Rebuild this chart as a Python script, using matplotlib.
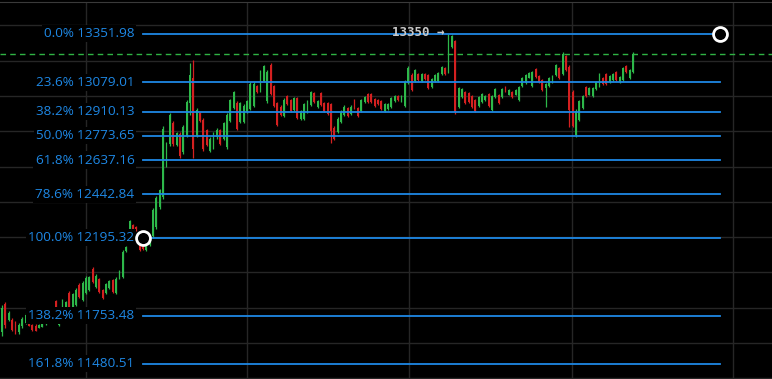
import matplotlib.pyplot as plt
import numpy as np

# candle data (price), one candle per bar
opens = [11660, 11820, 11730, 11730, 11710, 11660, 11695, 11715, 11718, 11700,
         11695, 11686, 11692, 11705, 11715, 11725, 11835, 11700, 11785, 11806,
         11885, 11775, 11815, 11930, 11845, 11885, 11900, 12020, 11918, 11960,
         11898, 11882, 11910, 11955, 11885, 11966, 11975, 12120, 12240, 12270,
         12260, 12156, 12155, 12126, 12155, 12205, 12260, 12370, 12430, 12610,
         12730, 12845, 12725, 12785, 12685, 12775, 12960, 13100, 12775, 12902,
         12865, 12805, 12686, 12710, 12765, 12805, 12755, 12710, 12858, 12932,
         12960, 12852, 12852, 12908, 12925, 12945, 13055, 13028, 13085, 12970,
         13175, 13055, 12958, 12940, 12886, 12998, 12975, 12920, 12986, 12868,
         12870, 12908, 12948, 13016, 12936, 13015, 12958, 12958, 12952, 12820,
         12795, 12852, 12890, 12930, 12896, 12975, 12930, 12914, 12964, 13010,
         13010, 12982, 12978, 12970, 12914, 12924, 12936, 12970, 13000, 12970,
         12945, 13075, 13122, 13085, 13126, 13084, 13126, 13118, 13050, 13084,
         13085, 13123, 13160, 13140, 13278, 13310, 12936, 12992, 13022, 13016,
         12998, 12976, 12942, 12964, 12975, 13010, 12920, 12992, 13005, 12992,
         13052, 13008, 13022, 13008, 12976, 13055, 13072, 13105, 13056, 13154,
         13114, 13090, 13045, 13055, 13078, 13118, 13158, 13124, 13225, 13165,
         13020, 12780, 12862, 12930, 13050, 13008, 12998, 13038, 13056, 13102,
         13125, 13078, 13090, 13136, 13078, 13090, 13170, 13102, 13136]
highs = [11813, 11830, 11779, 11739, 11722, 11711, 11745, 11768, 11722, 11705,
         11705, 11705, 11716, 11728, 11739, 11739, 11842, 11796, 11847, 11836,
         11893, 11882, 11910, 11939, 11950, 11978, 11978, 12030, 11990, 11967,
         11904, 11939, 11956, 11961, 11973, 12013, 12127, 12149, 12298, 12275,
         12263, 12161, 12161, 12161, 12206, 12366, 12434, 12474, 12828, 12742,
         12902, 12856, 12794, 12794, 12833, 12976, 13187, 13204, 12930, 12908,
         12873, 12811, 12765, 12794, 12816, 12811, 12851, 12902, 12982, 13027,
         12970, 12965, 12953, 12976, 13079, 13079, 13061, 13147, 13175, 13147,
         13187, 13061, 12965, 12947, 12987, 13004, 12982, 12993, 12993, 12919,
         12959, 12976, 13027, 13022, 12976, 13022, 12965, 12965, 12959, 12828,
         12879, 12919, 12947, 12936, 12947, 12982, 12936, 12982, 12999, 13016,
         13016, 12987, 12982, 12976, 12959, 12959, 12993, 13004, 13004, 13004,
         13090, 13170, 13130, 13153, 13130, 13130, 13130, 13124, 13101, 13124,
         13136, 13170, 13164, 13352, 13346, 13318, 13050, 13044, 13027, 13022,
         13004, 12982, 12999, 13016, 13004, 13016, 13004, 13044, 13010, 13044,
         13056, 13039, 13027, 13039, 13056, 13107, 13124, 13136, 13141, 13158,
         13118, 13096, 13073, 13107, 13118, 13181, 13164, 13250, 13232, 13175,
         13033, 12925, 12976, 13004, 13056, 13050, 13050, 13084, 13130, 13107,
         13130, 13118, 13130, 13141, 13113, 13164, 13175, 13153, 13250]
lows = [11642, 11682, 11722, 11665, 11648, 11648, 11682, 11705, 11694, 11665,
        11665, 11682, 11688, 11699, 11711, 11722, 11779, 11694, 11779, 11802,
        11796, 11768, 11808, 11853, 11836, 11876, 11893, 11939, 11910, 11882,
        11847, 11876, 11904, 11882, 11876, 11961, 11967, 12115, 12235, 12235,
        12235, 12121, 12127, 12121, 12149, 12195, 12246, 12360, 12417, 12600,
        12719, 12719, 12719, 12651, 12674, 12765, 12890, 12651, 12765, 12851,
        12691, 12714, 12680, 12702, 12759, 12725, 12748, 12697, 12851, 12925,
        12805, 12845, 12845, 12902, 12919, 12936, 13016, 13022, 13079, 12959,
        13004, 12936, 12828, 12885, 12879, 12947, 12908, 12913, 12868, 12862,
        12862, 12902, 12942, 12959, 12930, 12942, 12908, 12890, 12731, 12748,
        12788, 12845, 12885, 12879, 12890, 12925, 12879, 12908, 12959, 12959,
        12959, 12936, 12947, 12919, 12908, 12919, 12930, 12965, 12970, 12965,
        12936, 13067, 13027, 13079, 13084, 13079, 13090, 13039, 13044, 13079,
        13079, 13118, 13118, 13130, 13272, 12896, 12930, 12987, 12953, 12959,
        12930, 12908, 12936, 12959, 12970, 12936, 12913, 12987, 12953, 12987,
        13022, 13004, 12987, 13004, 12970, 13050, 13067, 13101, 13050, 13101,
        13073, 13027, 12936, 13050, 13073, 13113, 13096, 13118, 13141, 12822,
        12822, 12765, 12856, 12925, 12993, 13004, 12993, 13033, 13050, 13061,
        13061, 13073, 13084, 13084, 13073, 13084, 13130, 13096, 13130]
closes = [11800, 11700, 11770, 11675, 11660, 11700, 11735, 11760, 11698, 11672,
          11670, 11700, 11712, 11722, 11735, 11736, 11785, 11788, 11840, 11832,
          11805, 11875, 11900, 11860, 11940, 11970, 11972, 11945, 11982, 11890,
          11852, 11932, 11950, 11888, 11965, 12008, 12118, 12145, 12292, 12240,
          12240, 12126, 12132, 12156, 12200, 12355, 12420, 12465, 12815, 12735,
          12890, 12730, 12788, 12660, 12825, 12965, 13120, 12700, 12920, 12856,
          12700, 12720, 12758, 12788, 12810, 12730, 12845, 12890, 12975, 13020,
          12815, 12958, 12946, 12970, 13070, 13070, 13022, 13140, 13168, 13135,
          13012, 12945, 12835, 12890, 12980, 12952, 12914, 12986, 12875, 12913,
          12952, 12970, 13020, 12965, 12970, 12948, 12914, 12896, 12800, 12755,
          12872, 12912, 12940, 12885, 12940, 12930, 12885, 12975, 12994, 12965,
          12965, 12942, 12952, 12925, 12953, 12954, 12987, 12999, 12975, 12999,
          13080, 13160, 13035, 13146, 13090, 13125, 13094, 13045, 13096, 13119,
          13130, 13165, 13123, 13300, 13340, 12910, 13044, 13040, 12958, 12964,
          12936, 12914, 12993, 13010, 13000, 12942, 12998, 13038, 12958, 13038,
          13026, 13034, 12992, 13034, 13050, 13102, 13118, 13132, 13136, 13106,
          13078, 13033, 13068, 13102, 13113, 13176, 13101, 13240, 13146, 12920,
          12830, 12915, 12970, 12998, 12998, 13045, 13045, 13080, 13125, 13066,
          13066, 13113, 13125, 13090, 13108, 13158, 13135, 13148, 13238]

# fibonacci retracement drawing
fib_ratios = [0.0, 0.236, 0.382, 0.5, 0.618, 0.786, 1.0, 1.382, 1.618]
fib_prices = [13351.98, 13079.01, 12910.13, 12773.65, 12637.16,
              12442.84, 12195.32, 11753.48, 11480.51]
fib_start = 42      # bar of the 100% anchor
fib_end = 214       # bar of the 0% anchor (in the future)
high_label = "13350"

UP = '#2db84a'
DOWN = '#d42020'
BLUE = '#1e88e5'
GRID = '#262626'

fig = plt.figure(figsize=(7.72, 3.79), dpi=100, facecolor='black')
ax = fig.add_axes([0, 1/379, 1, 376.5/379])
ax.set_facecolor('black')

x = np.arange(len(closes))
o = np.array(opens); c = np.array(closes)
colors = [UP if cc >= oo else DOWN for oo, cc in zip(opens, closes)]

ax.vlines(x, lows, highs, colors=colors, lw=0.9, zorder=3)
ax.bar(x, np.maximum(np.abs(c - o), 4), bottom=np.minimum(o, c),
       width=0.55, color=colors, linewidth=0, zorder=3)

# grid
for gx in [25.0, 73.0, 121.3, 169.8, 217.8]:
    ax.axvline(gx, color=GRID, lw=1, zorder=0)
for gy in range(11400, 13600, 200):
    ax.axhline(gy, color=GRID, lw=1, zorder=0)

# last price line
ax.axhline(closes[-1], color='#2fb344', lw=1, ls=(0, (4, 3)), zorder=2)

# fib levels
for r, p in zip(fib_ratios, fib_prices):
    ax.plot([fib_start, fib_end], [p, p], color=BLUE, lw=1.3, zorder=4)
    ax.text(fib_start - 2.6, p, f"{r*100:.1f}% {p:.2f}", color=BLUE,
            ha='right', va='center', fontsize=9.7, family='Open Sans', zorder=6,
            bbox=dict(facecolor='black', edgecolor='none', pad=1.5))

ax.plot([fib_start, fib_end], [fib_prices[6], fib_prices[0]], 'o', ms=10,
        mfc='black', mec='white', mew=2, zorder=7, ls='none')

# high marker
hi = int(np.argmax(highs))
ax.text(hi - 1.2, highs[hi] + 8, high_label + " \u2192", color='#c8c8c8',
        ha='right', va='center', fontsize=9, family='DejaVu Sans Mono',
        fontweight='bold', zorder=6)

ax.set_xlim(-0.6, 229.4)
ax.set_ylim(11401, 13536)
for s in ['left', 'right']:
    ax.spines[s].set_visible(False)
ax.spines['top'].set_color('#3a3a3a')
ax.spines['bottom'].set_color('#262626')
ax.set_xticks([]); ax.set_yticks([])

fig.savefig('out.png', dpi=100, facecolor='black')
